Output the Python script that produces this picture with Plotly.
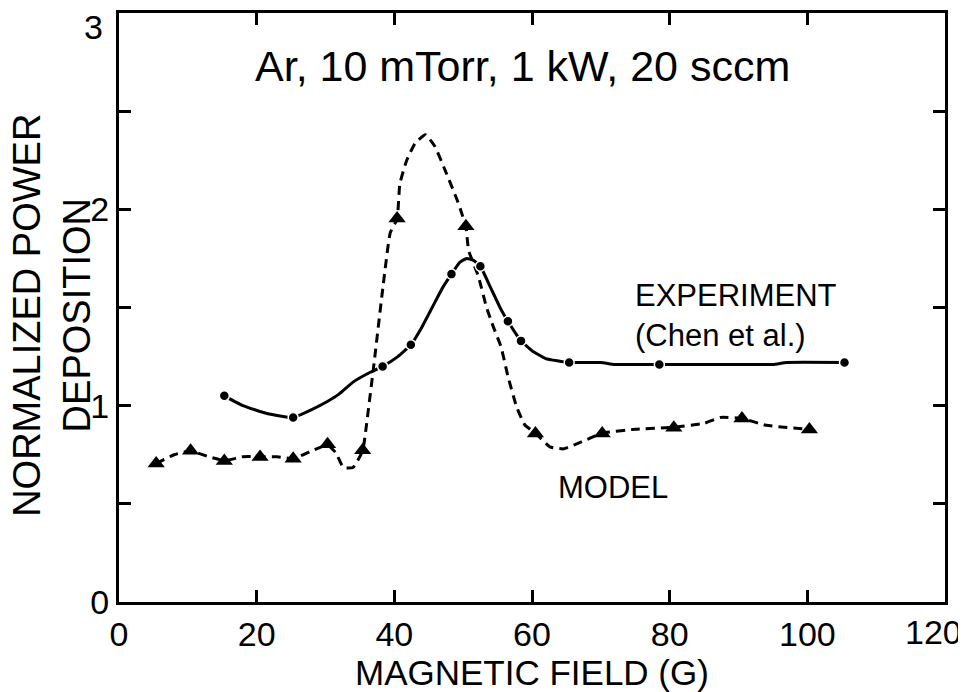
import plotly.graph_objects as go

# Experiment (Chen et al.) - smooth curve and measured points
exp_curve_x = [15.3, 18, 21.5, 25.3, 28, 30.2, 32, 34, 36.5, 38.3, 40.5, 42.4, 44, 45.5, 47, 48.3,
               49.5, 50.5, 51.5, 52.5, 54, 55.5, 56.5, 58.4, 60, 62, 65.4, 70, 72, 78.5, 85, 95, 97, 105.4]
exp_curve_y = [1.05, 1.0, 0.96, 0.94, 0.98, 1.02, 1.06, 1.12, 1.17, 1.2, 1.25, 1.31, 1.40, 1.50, 1.60, 1.67,
               1.73, 1.75, 1.74, 1.71, 1.60, 1.49, 1.43, 1.33, 1.28, 1.24, 1.22, 1.22, 1.21, 1.21, 1.21, 1.21, 1.22, 1.22]
exp_pts_x = [15.3, 25.3, 38.3, 42.4, 48.3, 52.5, 56.5, 58.4, 65.4, 78.5, 105.4]
exp_pts_y = [1.05, 0.94, 1.2, 1.31, 1.67, 1.71, 1.43, 1.33, 1.22, 1.21, 1.22]

# Model - dashed curve and computed points
mod_curve_x = [5.4, 8, 10.4, 13, 15.3, 18, 20.5, 23, 25.3, 28, 30.3, 31.5, 32.6, 34, 35.4, 35.8, 37, 38.4,
               39.4, 40.4, 40.8, 41.8, 43, 44.5, 45.9, 47.6, 49.1, 49.6, 50.4, 50.8, 52.2, 53.4, 54.4, 55.5,
               56.5, 57.8, 59, 60.5, 62.6, 64.6, 67.5, 70.2, 75, 80.6, 85, 87.4, 90.5, 94, 100.3]
mod_curve_y = [0.705, 0.75, 0.77, 0.74, 0.72, 0.74, 0.74, 0.74, 0.73, 0.77, 0.80, 0.76, 0.685, 0.685, 0.77,
               0.86, 1.2, 1.62, 1.88, 1.95, 2.13, 2.25, 2.335, 2.38, 2.32, 2.18, 2.05, 2.0, 1.91, 1.79, 1.66,
               1.50, 1.40, 1.30, 1.15, 0.99, 0.90, 0.86, 0.79, 0.78, 0.82, 0.86, 0.88, 0.89, 0.91, 0.94, 0.935,
               0.90, 0.88]
mod_pts_x = [5.4, 10.4, 15.3, 20.5, 25.3, 30.3, 35.4, 40.4, 50.4, 60.5, 70.2, 80.6, 90.5, 100.3]
mod_pts_y = [0.705, 0.77, 0.718, 0.739, 0.73, 0.803, 0.773, 1.953, 1.914, 0.858, 0.858, 0.888, 0.934, 0.878]

x_ticks = [0, 20, 40, 60, 80, 100, 120]
x_tick_labels = ["0", "20", "40", "60", "80", "100", ""]   # "120" drawn nudged inward below
y_ticks = [0, 0.5, 1, 1.5, 2, 2.5, 3]
y_tick_labels = ["0", "", "1", "", "2", "", ""]           # "3" drawn nudged inward below

FONT = "Liberation Sans, Arial, sans-serif"

fig = go.Figure()
fig.add_trace(go.Scatter(x=mod_curve_x, y=mod_curve_y, mode="lines",
                         line=dict(color="black", width=3, dash="9px,6px", shape="spline", smoothing=0.4),
                         hoverinfo="skip", showlegend=False))
fig.add_trace(go.Scatter(x=mod_pts_x, y=mod_pts_y, mode="markers",
                         marker=dict(symbol="triangle-up", size=15, color="black"),
                         showlegend=False))
fig.add_trace(go.Scatter(x=exp_curve_x, y=exp_curve_y, mode="lines",
                         line=dict(color="black", width=3, shape="spline", smoothing=0.4),
                         hoverinfo="skip", showlegend=False))
fig.add_trace(go.Scatter(x=exp_pts_x, y=exp_pts_y, mode="markers",
                         marker=dict(symbol="circle", size=10, color="black",
                                     line=dict(color="white", width=1.5)),
                         showlegend=False))

fig.add_annotation(x=58.6, y=2.73, text="Ar, 10 mTorr, 1 kW, 20 sccm", showarrow=False,
                   xanchor="center", yanchor="middle", font=dict(size=43, color="black", family=FONT))
fig.add_annotation(x=74.6, y=1.46, text="EXPERIMENT<br>(Chen et al.)", showarrow=False,
                   xanchor="left", yanchor="middle", align="left",
                   font=dict(size=31, color="black", family=FONT))
fig.add_annotation(x=63.5, y=0.585, text="MODEL", showarrow=False,
                   xanchor="left", yanchor="middle", font=dict(size=31, color="black", family=FONT))

# edge tick labels nudged inside the frame, as in the reference
fig.add_annotation(x=x_ticks[-1], y=0, text=str(x_ticks[-1]), showarrow=False, xanchor="center",
                   yanchor="middle", xshift=-12, yshift=-30, font=dict(size=34, color="black", family=FONT))
fig.add_annotation(xref="paper", x=0, y=y_ticks[-1], text="3", showarrow=False, xanchor="right",
                   yanchor="middle", xshift=-14, yshift=-14, font=dict(size=34, color="black", family=FONT))

# axis titles (placed as paper annotations for exact positioning)
fig.add_annotation(xref="paper", yref="paper", x=0.5, y=-0.119, text="MAGNETIC FIELD (G)",
                   showarrow=False, xanchor="center", yanchor="middle",
                   font=dict(size=35, color="black", family=FONT))
fig.add_annotation(xref="paper", yref="paper", x=-0.081, y=0.486, text="NORMALIZED POWER<br>DEPOSITION",
                   showarrow=False, xanchor="center", yanchor="middle", textangle=-90,
                   font=dict(size=38, color="black", family=FONT))

axis_common = dict(showgrid=False, zeroline=False, showline=True, linecolor="black", linewidth=3,
                   mirror="allticks", ticks="inside", ticklen=12, tickwidth=3, tickcolor="black",
                   automargin=False, ticklabeloverflow="allow",
                   tickfont=dict(size=34, color="black", family=FONT))

fig.update_xaxes(range=[0, 120], tickvals=x_ticks, ticktext=x_tick_labels, **axis_common)
fig.update_yaxes(range=[0, 3], tickvals=y_ticks, ticktext=y_tick_labels, **axis_common)

# page body has an 8px margin, so the figure is sized/offset to land on the 966x692 frame
fig.update_layout(width=958, height=684, paper_bgcolor="white", plot_bgcolor="white",
                  margin=dict(l=111, r=21, t=5, b=90), showlegend=False)

fig.write_html("out.html")
